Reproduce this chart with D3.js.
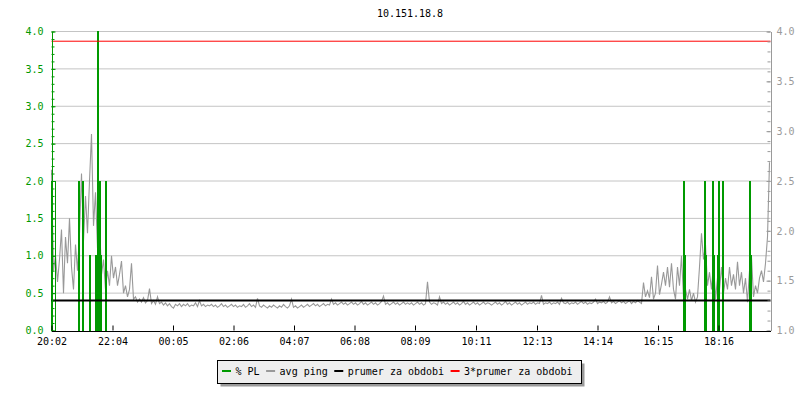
<!DOCTYPE html>
<html>
<head>
<meta charset="utf-8">
<script src="https://cdn.jsdelivr.net/npm/d3@7"></script>
<style>
  body { margin: 0; background: #fff; }
  text { font-family: "DejaVu Sans Mono", monospace; font-size: 10px; }
</style>
</head>
<body>
<svg id="chart" width="800" height="400"></svg>
<script>
// chart data
const chartTitle = "10.151.18.8";

// minutes after 20:02 for each x tick
const tickMinutes = [0, 122, 243, 364, 485, 606, 727, 849, 971, 1092, 1213, 1334];
const tickLabels = ["20:02", "22:04", "00:05", "02:06", "04:07", "06:08", "08:09", "10:11", "12:13", "14:14", "16:15", "18:16"];

const leftTicks = [0, 0.5, 1, 1.5, 2, 2.5, 3, 3.5, 4];
const rightTicks = [1, 1.5, 2, 2.5, 3, 3.5, 4];

// avg ping, one value every 4 minutes from 20:02
const pingValues = [
  2.15, 0.8, 1.0, 0.65, 0.95, 1.35, 0.5, 1.25, 0.9, 1.5, 0.85, 0.55, 1.15, 0.8, 1.3, 2.1, 1.2, 1.8, 1.3, 2.0,
  2.63, 1.4, 1.85, 1.1, 1.45, 0.75, 0.95, 0.55, 0.8, 0.6, 1.0, 0.7, 0.85, 0.6, 0.75, 0.93, 0.5, 0.6, 0.45, 0.55,
  0.9, 0.42, 0.45, 0.38, 0.42, 0.38, 0.44, 0.37, 0.4, 0.56, 0.36, 0.4, 0.35, 0.45, 0.36, 0.38, 0.34, 0.37, 0.33, 0.36,
  0.32, 0.3, 0.35, 0.33, 0.36, 0.32, 0.35, 0.33, 0.36, 0.32, 0.34, 0.33, 0.37, 0.32, 0.4, 0.33, 0.35, 0.32, 0.34, 0.33,
  0.35, 0.32, 0.34, 0.31, 0.33, 0.36, 0.32, 0.34, 0.31, 0.33, 0.35, 0.32, 0.34, 0.31, 0.33, 0.32, 0.35, 0.31, 0.33, 0.36,
  0.32, 0.34, 0.31, 0.43, 0.33, 0.31, 0.34, 0.32, 0.3, 0.33, 0.31, 0.34, 0.32, 0.3, 0.33, 0.31, 0.35, 0.32, 0.3, 0.33,
  0.42, 0.31, 0.33, 0.3, 0.32, 0.34, 0.31, 0.33, 0.35, 0.32, 0.34, 0.36, 0.33, 0.35, 0.32, 0.34, 0.36, 0.33, 0.35, 0.34,
  0.42, 0.35, 0.37, 0.34, 0.36, 0.38, 0.35, 0.37, 0.34, 0.36, 0.38, 0.35, 0.37, 0.34, 0.36, 0.39, 0.35, 0.37, 0.34, 0.36,
  0.38, 0.35, 0.37, 0.34, 0.36, 0.39, 0.46, 0.35, 0.37, 0.34, 0.36, 0.38, 0.35, 0.37, 0.34, 0.36, 0.38, 0.35, 0.37, 0.35,
  0.37, 0.34, 0.36, 0.38, 0.35, 0.37, 0.34, 0.36, 0.65, 0.38, 0.35, 0.37, 0.36, 0.34, 0.45, 0.36, 0.38, 0.35, 0.37, 0.34,
  0.36, 0.38, 0.35, 0.37, 0.34, 0.36, 0.39, 0.35, 0.37, 0.34, 0.36, 0.38, 0.35, 0.37, 0.34, 0.36, 0.38, 0.35, 0.37, 0.36,
  0.34, 0.36, 0.38, 0.35, 0.37, 0.34, 0.36, 0.39, 0.35, 0.37, 0.34, 0.36, 0.38, 0.35, 0.37, 0.34, 0.36, 0.38, 0.35, 0.37,
  0.36, 0.38, 0.35, 0.37, 0.36, 0.47, 0.35, 0.37, 0.36, 0.38, 0.35, 0.37, 0.36, 0.38, 0.35, 0.43, 0.37, 0.36, 0.38, 0.35,
  0.37, 0.36, 0.38, 0.35, 0.37, 0.39, 0.36, 0.38, 0.35, 0.37, 0.36, 0.38, 0.42, 0.36, 0.38, 0.37, 0.39, 0.36, 0.38, 0.45,
  0.37, 0.39, 0.36, 0.38, 0.4, 0.37, 0.39, 0.36, 0.38, 0.4, 0.36, 0.39, 0.37, 0.4, 0.38, 0.36, 0.64, 0.45, 0.53, 0.44,
  0.72, 0.42, 0.5, 0.87, 0.48, 0.62, 0.78, 0.6, 0.85, 0.58, 0.9, 0.55, 0.42, 0.85, 0.6, 1.0, 0.45, 0.55, 0.42, 0.55,
  0.4, 0.5, 0.38, 0.45, 0.85, 1.3, 0.95, 1.15, 0.6, 0.78, 0.55, 0.9, 0.42, 0.7, 0.55, 0.85, 0.5, 0.7, 0.55, 0.85,
  0.6, 0.75, 0.55, 0.92, 0.6, 0.78, 0.5, 0.7, 0.38, 0.8, 0.98, 0.45, 0.6, 0.5, 0.7, 0.8, 0.65, 0.9, 1.25, 2.25
];
const pingStep = 4;

// packet loss events: start minute, end minute, value
const plStart = [0, 54, 62, 76, 87, 89, 91, 92.5, 95, 97, 107, 109, 1263, 1265, 1306, 1308, 1321, 1323, 1331, 1334, 1341, 1396, 1398];
const plEnd   = [8, 56, 64, 78, 89, 91, 93, 94, 97, 99, 109, 110, 1265, 1267, 1308, 1310, 1323, 1325, 1333, 1336, 1343, 1398, 1400];
const plValue = [2, 2, 2, 1, 1, 1, 2, 4, 2, 1, 2, 1, 2, 1, 2, 1, 2, 1, 1, 2, 2, 2, 1];

const meanValue = 0.4;
const tripleMeanValue = 3.87;

const legendLabels = ["% PL", "avg ping", "prumer za obdobi", "3*prumer za obdobi"];

const colors = { pl: "#009900", ping: "#999999", mean: "#000000", triple: "#ff0000", grid: "#c4c4c4", right: "#9a9a9a" };

const svg = d3.select("#chart");

const x = d3.scaleLinear().domain([0, 1438]).range([51.5, 770.5]);
const y = d3.scaleLinear().domain([0, 4]).range([330.5, 31.5]);
const yRight = d3.scaleLinear().domain([1, 4]).range([330.5, 31.5]);

// title
svg.append("text")
  .attr("x", 410)
  .attr("y", 16.5)
  .attr("text-anchor", "middle")
  .attr("fill", "#000")
  .text(chartTitle);

// horizontal grid
svg.append("g")
  .selectAll("line")
  .data(leftTicks.slice(1))
  .enter()
  .append("line")
  .attr("x1", x(0)).attr("x2", x(1438))
  .attr("y1", d => y(d)).attr("y2", d => y(d))
  .attr("stroke", colors.grid)
  .attr("stroke-width", 1);

// avg ping line
const pingLine = d3.line()
  .x((d, i) => x(i * pingStep))
  .y(d => y(d));

svg.append("path")
  .datum(pingValues)
  .attr("d", pingLine)
  .attr("fill", "none")
  .attr("stroke", colors.ping)
  .attr("stroke-width", 1.1);

// packet loss
svg.append("g")
  .selectAll("path")
  .data(plValue.map((v, i) => ({ s: plStart[i], e: plEnd[i], v: v })))
  .enter()
  .append("path")
  .attr("d", d => `M${x(d.s)},${y(0)}V${y(d.v)}H${x(d.e)}V${y(0)}`)
  .attr("fill", "none")
  .attr("stroke", colors.pl)
  .attr("stroke-width", 1)
  .attr("shape-rendering", "crispEdges");

// mean lines
svg.append("line")
  .attr("x1", x(0)).attr("x2", x(1438))
  .attr("y1", y(meanValue)).attr("y2", y(meanValue))
  .attr("stroke", colors.mean)
  .attr("stroke-width", 2);

svg.append("line")
  .attr("x1", x(0)).attr("x2", x(1438))
  .attr("y1", y(tripleMeanValue)).attr("y2", y(tripleMeanValue))
  .attr("stroke", colors.triple)
  .attr("stroke-width", 1);

// axes
const minorLeft = d3.range(0, 41).map(i => i / 10);
const minorRight = d3.range(10, 41).map(i => i / 10);

const leftAxis = svg.append("g")
  .attr("transform", "translate(51.5,0)")
  .call(d3.axisLeft(y).tickValues(leftTicks).tickFormat(d3.format(".1f")).tickSize(-4).tickSizeOuter(0).tickPadding(8));
const leftMinor = svg.append("g")
  .attr("transform", "translate(51.5,0)")
  .call(d3.axisLeft(y).tickValues(minorLeft).tickFormat("").tickSize(-3).tickSizeOuter(0));

const rightAxis = svg.append("g")
  .attr("transform", "translate(770.5,0)")
  .call(d3.axisRight(yRight).tickValues(rightTicks).tickFormat(d3.format(".1f")).tickSize(-4).tickSizeOuter(0).tickPadding(6));
const rightMinor = svg.append("g")
  .attr("transform", "translate(770.5,0)")
  .call(d3.axisRight(yRight).tickValues(minorRight).tickFormat("").tickSize(-3).tickSizeOuter(0));

const bottomAxis = svg.append("g")
  .attr("transform", "translate(0,330.5)")
  .call(d3.axisBottom(x).tickValues(tickMinutes).tickFormat((d, i) => tickLabels[i]).tickSize(-5).tickSizeOuter(0).tickPadding(7));

svg.selectAll("g.tick text").style("font-family", "'DejaVu Sans Mono', monospace").style("font-size", "10px");

[leftAxis, leftMinor].forEach(a => a.selectAll("path, line").attr("stroke", colors.pl));
leftAxis.selectAll("text").attr("fill", colors.pl);
[rightAxis, rightMinor].forEach(a => a.selectAll("path, line").attr("stroke", colors.right));
rightAxis.selectAll("text").attr("fill", colors.right);
bottomAxis.selectAll("path, line").attr("stroke", "#000");
bottomAxis.selectAll("text").attr("fill", "#000");
svg.selectAll("path.domain").attr("shape-rendering", "crispEdges");

// legend
const legend = svg.append("g");
legend.append("rect")
  .attr("x", 220.5).attr("y", 363.5).attr("width", 364).attr("height", 23)
  .attr("fill", "#9a9a9a");
legend.append("rect")
  .attr("x", 217.5).attr("y", 360.5).attr("width", 364).attr("height", 23)
  .attr("fill", "#eeeeee").attr("stroke", "#000").attr("stroke-width", 1);

const legendColors = [colors.pl, colors.ping, colors.mean, colors.triple];
let lx = 222;
legendLabels.forEach((label, i) => {
  legend.append("line")
    .attr("x1", lx).attr("x2", lx + 9)
    .attr("y1", 371).attr("y2", 371)
    .attr("stroke", legendColors[i]).attr("stroke-width", 2);
  const t = legend.append("text")
    .attr("x", lx + 13.5)
    .attr("y", 374.5)
    .attr("fill", "#000")
    .text(label);
  lx += 13.5 + t.node().getComputedTextLength() + 6.5;
});
</script>
</body>
</html>
